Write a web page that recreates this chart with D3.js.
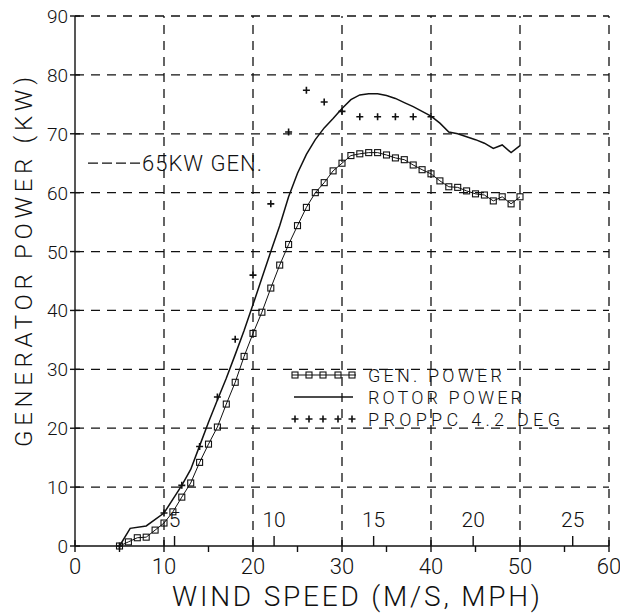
<!DOCTYPE html>
<html>
<head>
<meta charset="utf-8">
<script src="https://cdn.jsdelivr.net/npm/d3@7"></script>
<style>
  body { margin: 0; background: #fff; }
  text { font-family: Roboto, "Liberation Sans", Arial, sans-serif; font-weight: 300; fill: #111; }
</style>
</head>
<body>
<script>
// wind speed in mph
var genSpeed = [5,6,7,8,9,10,11,12,13,14,15,16,17,18,19,20,21,22,23,24,25,26,27,28,29,30,
  31,32,33,34,35,36,37,38,39,40,41,42,43,44,45,46,47,48,49,50];
var genPower = [0,0.7,1.4,1.5,2.7,3.9,5.8,8.3,10.7,14.2,17.3,20.2,24.1,27.8,32.2,36.1,39.7,43.8,47.7,51.2,
  54.4,57.5,60,61.7,63.7,65,66.3,66.6,66.8,66.8,66.4,65.9,65.6,64.7,63.9,63.2,62,61,60.9,60.3,
  59.8,59.6,58.6,59.3,58.1,59.3];

var rotorSpeed = [5,6.2,8,10,12,13,14,15,16,17,18,19,20,21,22,23,24,25,26,27,28,29,30,31,32,33,34,35,36,37,
  38,39,40,41,42,43,44,45,46,47,48,49,50];
var rotorPower = [0,3.0,3.4,5.6,10.3,13,17,21,24.8,28.5,32.5,36.6,41,45.5,50,54.4,59.3,63.3,66.5,69,71,72.6,74.3,75.8,76.6,76.8,
  76.8,76.5,76,75.3,74.6,73.8,73,71.8,70.3,70,69.5,69,68.4,67.5,68.1,66.8,68];

var propSpeed = [5,10,12,14,16,18,20,22,24,26,28,30,32,34,36,38,40];
var propPower = [0,5.6,10.3,16.9,25.3,35.1,46,58.1,70.3,77.4,75.4,73.8,72.9,72.9,72.9,72.9,72.9];

var xTicks = [0,10,20,30,40,50,60];
var yTicks = [0,10,20,30,40,50,60,70,80,90];
var msTicks = [5,10,15,20,25];          // m/s secondary scale
var mphMinor = [5,15,25,35,45,55];
var ratedPower = 65;

var width = 620, height = 613;
var x = d3.scaleLinear().domain([0, 60]).range([75, 609]);
var y = d3.scaleLinear().domain([0, 90]).range([546, 16]);

var svg = d3.select("body").append("svg")
  .attr("width", width).attr("height", height);

// dashed grid
var grid = svg.append("g").attr("stroke", "#111").attr("stroke-width", 1.3)
  .attr("stroke-dasharray", "9,7");
grid.selectAll(".vg").data(xTicks.slice(1)).enter().append("line")
  .attr("x1", d => x(d)).attr("x2", d => x(d))
  .attr("y1", y(0)).attr("y2", y(90));
grid.selectAll(".hg").data(yTicks.slice(1)).enter().append("line")
  .attr("x1", x(0)).attr("x2", x(60))
  .attr("y1", d => y(d)).attr("y2", d => y(d));

// axes lines
var ax = svg.append("g").attr("stroke", "#111").attr("stroke-width", 1.4);
ax.append("line").attr("x1", x(0)).attr("x2", x(60)).attr("y1", y(0)).attr("y2", y(0));
ax.append("line").attr("x1", x(0)).attr("x2", x(0)).attr("y1", y(0)).attr("y2", y(90));
ax.selectAll(".xt").data(xTicks).enter().append("line")
  .attr("x1", d => x(d)).attr("x2", d => x(d)).attr("y1", y(0) - 6).attr("y2", y(0) + 6);
ax.selectAll(".yt").data(yTicks).enter().append("line")
  .attr("x1", x(0) - 5).attr("x2", x(0) + 5).attr("y1", d => y(d)).attr("y2", d => y(d));
ax.selectAll(".ms").data(msTicks).enter().append("line")
  .attr("x1", d => x(d * 2.2369)).attr("x2", d => x(d * 2.2369))
  .attr("y1", y(0)).attr("y2", y(0) - 10);
ax.selectAll(".mn").data(mphMinor).enter().append("line")
  .attr("x1", d => x(d)).attr("x2", d => x(d))
  .attr("y1", y(0)).attr("y2", y(0) + 6);

// tick labels
svg.selectAll(".xl").data(xTicks).enter().append("text")
  .attr("x", d => x(d)).attr("y", 574).attr("text-anchor", "middle")
  .style("font-size", "22px").text(d => d);
svg.selectAll(".yl").data(yTicks).enter().append("text")
  .attr("x", 68).attr("y", d => y(d) + 7).attr("text-anchor", "end")
  .style("font-size", "19px").text(d => d);
svg.selectAll(".msl").data(msTicks).enter().append("text")
  .attr("x", d => x(d * 2.2369)).attr("y", 527).attr("text-anchor", "middle")
  .style("font-size", "21px").text(d => d);

// axis titles
svg.append("text").attr("x", 356).attr("y", 606).attr("text-anchor", "middle")
  .attr("textLength", 368).attr("lengthAdjust", "spacing")
  .style("font-size", "28px").text("WIND SPEED (M/S, MPH)");
svg.append("text").attr("transform", "translate(32,262) rotate(-90)")
  .attr("text-anchor", "middle").attr("textLength", 370).attr("lengthAdjust", "spacing")
  .style("font-size", "24px").text("GENERATOR POWER (KW)");

// 65 kW reference label
svg.append("line").attr("x1", 88).attr("x2", 141)
  .attr("y1", y(ratedPower)).attr("y2", y(ratedPower))
  .attr("stroke", "#111").attr("stroke-width", 1.3).attr("stroke-dasharray", "10,4");
svg.append("text").attr("x", 142).attr("y", y(ratedPower) + 8)
  .attr("textLength", 120).attr("lengthAdjust", "spacing")
  .style("font-size", "22px").text("65KW GEN.");

// series
var line = d3.line().x(d => x(d[0])).y(d => y(d[1]));
var genData = genSpeed.map((s, i) => [s, genPower[i]]);
var rotorData = rotorSpeed.map((s, i) => [s, rotorPower[i]]);
var propData = propSpeed.map((s, i) => [s, propPower[i]]);

svg.append("path").datum(rotorData).attr("d", line)
  .attr("fill", "none").attr("stroke", "#111").attr("stroke-width", 1.5);
svg.append("path").datum(genData).attr("d", line)
  .attr("fill", "none").attr("stroke", "#111").attr("stroke-width", 1);
svg.selectAll(".sq").data(genData).enter().append("rect")
  .attr("x", d => x(d[0]) - 3).attr("y", d => y(d[1]) - 3)
  .attr("width", 6).attr("height", 6)
  .attr("fill", "none").attr("stroke", "#111").attr("stroke-width", 1.1);

function plus(g, cx, cy) {
  g.append("path").attr("d", "M" + (cx - 3.5) + "," + cy + "H" + (cx + 3.5) +
    "M" + cx + "," + (cy - 3.5) + "V" + (cy + 3.5))
    .attr("stroke", "#111").attr("stroke-width", 1.6);
}
var pg = svg.append("g");
propData.forEach(d => plus(pg, x(d[0]), y(d[1])));

// legend
var lg = svg.append("g");
var sampleX = [295, 309, 323, 338, 352];
lg.append("line").attr("x1", 292).attr("x2", 356).attr("y1", 375).attr("y2", 375)
  .attr("stroke", "#111").attr("stroke-width", 1);
sampleX.forEach(sx => lg.append("rect").attr("x", sx - 3).attr("y", 372)
  .attr("width", 6).attr("height", 6).attr("fill", "none")
  .attr("stroke", "#111").attr("stroke-width", 1.1));
lg.append("line").attr("x1", 294).attr("x2", 353).attr("y1", 397).attr("y2", 397)
  .attr("stroke", "#111").attr("stroke-width", 1.5);
sampleX.forEach(sx => plus(lg, sx, 419));
var legendNames = ["GEN. POWER", "ROTOR POWER", "PROPPC 4.2 DEG"];
var legendLen = [134, 154, 192];
lg.selectAll(".lt").data(legendNames).enter().append("text")
  .attr("x", 368).attr("y", (d, i) => 382 + i * 22)
  .attr("textLength", (d, i) => legendLen[i]).attr("lengthAdjust", "spacing")
  .style("font-size", "18px").text(d => d);
</script>
</body>
</html>
